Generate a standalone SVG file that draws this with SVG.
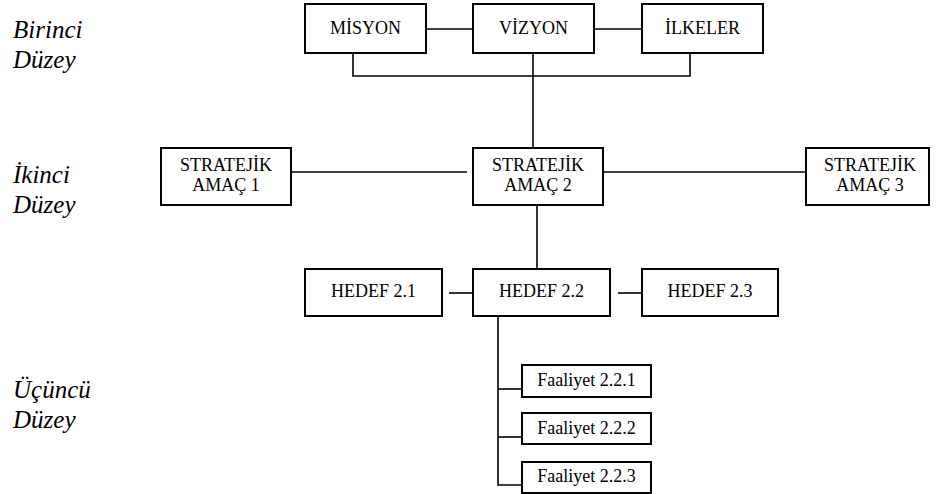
<svg xmlns="http://www.w3.org/2000/svg" width="936" height="494" viewBox="0 0 936 494">
  <style>
    .box { fill: #fff; stroke: #000; stroke-width: 2; }
    .conn { fill: none; stroke: #000; stroke-width: 1.6; }
  </style>
  <rect width="936" height="494" fill="#fff"/>

  <!-- level labels -->
  <g id="levels" font-family="Liberation Serif" font-size="25" font-style="italic" fill="#000">
    <text x="13" y="38">Birinci</text>
    <text x="13" y="68">Düzey</text>
    <text x="13" y="183">İkinci</text>
    <text x="13" y="213">Düzey</text>
    <text x="13" y="398">Üçüncü</text>
    <text x="13" y="428">Düzey</text>
  </g>

  <!-- connectors -->
  <g id="connectors">
    <line class="conn" x1="426" y1="29" x2="473" y2="29"/>
    <line class="conn" x1="594" y1="29" x2="642" y2="29"/>
    <polyline class="conn" points="353,53 353,76 690,76 690,53"/>
    <line class="conn" x1="533" y1="53" x2="533" y2="148"/>
    <line class="conn" x1="291" y1="172" x2="467" y2="172"/>
    <line class="conn" x1="603" y1="172" x2="806" y2="172"/>
    <line class="conn" x1="537" y1="205" x2="537" y2="269"/>
    <line class="conn" x1="449" y1="293" x2="473" y2="293"/>
    <line class="conn" x1="618" y1="293" x2="642" y2="293"/>
    <polyline class="conn" points="498,316 498,485 522,485"/>
    <line class="conn" x1="498" y1="389" x2="522" y2="389"/>
    <line class="conn" x1="498" y1="437" x2="522" y2="437"/>
  </g>

  <g id="nodes" font-family="Liberation Serif" font-size="18" text-anchor="middle" fill="#000">
    <!-- first level -->
    <g id="misyon">
      <rect class="box" x="305" y="4" width="121" height="49"/>
      <text x="365.5" y="34">MİSYON</text>
    </g>
    <g id="vizyon">
      <rect class="box" x="473" y="4" width="121" height="49"/>
      <text x="533.5" y="34">VİZYON</text>
    </g>
    <g id="ilkeler">
      <rect class="box" x="642" y="4" width="121" height="49"/>
      <text x="702.5" y="34">İLKELER</text>
    </g>

    <!-- second level -->
    <g id="amac1">
      <rect class="box" x="161" y="148" width="130" height="57"/>
      <text x="226" y="171">STRATEJİK</text>
      <text x="226" y="191">AMAÇ 1</text>
    </g>
    <g id="amac2">
      <rect class="box" x="473" y="148" width="130" height="57"/>
      <text x="538" y="171">STRATEJİK</text>
      <text x="538" y="191">AMAÇ 2</text>
    </g>
    <g id="amac3">
      <rect class="box" x="806" y="148" width="123" height="57"/>
      <text x="870" y="171">STRATEJİK</text>
      <text x="870" y="191">AMAÇ 3</text>
    </g>

    <!-- targets -->
    <g id="hedef21">
      <rect class="box" x="305" y="269" width="137" height="47"/>
      <text x="373.5" y="297">HEDEF 2.1</text>
    </g>
    <g id="hedef22">
      <rect class="box" x="473" y="269" width="137" height="47"/>
      <text x="541.5" y="297">HEDEF 2.2</text>
    </g>
    <g id="hedef23">
      <rect class="box" x="642" y="269" width="136" height="47"/>
      <text x="710" y="297">HEDEF 2.3</text>
    </g>

    <!-- activities -->
    <g id="faaliyet221">
      <rect class="box" x="522" y="365" width="129" height="32"/>
      <text x="586.5" y="386">Faaliyet 2.2.1</text>
    </g>
    <g id="faaliyet222">
      <rect class="box" x="522" y="413" width="129" height="31"/>
      <text x="586.5" y="434">Faaliyet 2.2.2</text>
    </g>
    <g id="faaliyet223">
      <rect class="box" x="522" y="462" width="129" height="31"/>
      <text x="586.5" y="482">Faaliyet 2.2.3</text>
    </g>
  </g>
</svg>
